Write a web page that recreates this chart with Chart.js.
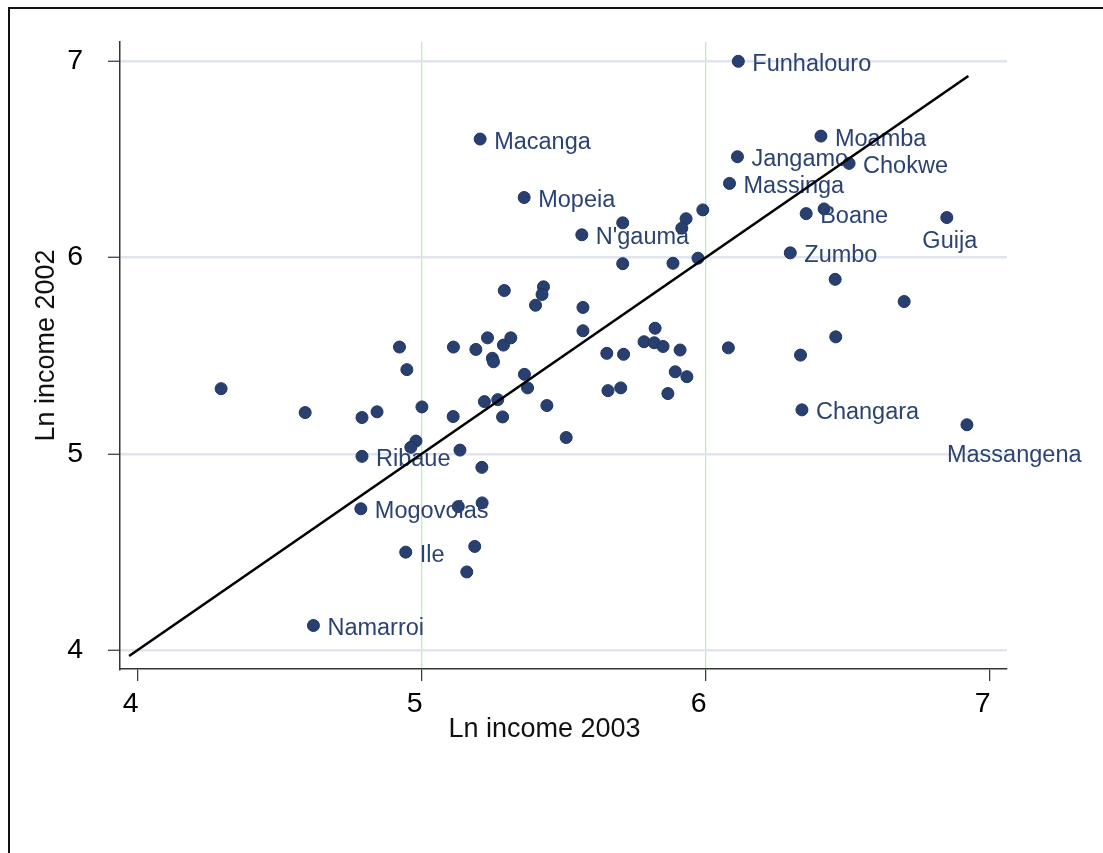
<!DOCTYPE html>
<html>
<head>
<meta charset="utf-8">
<script src="https://cdn.jsdelivr.net/npm/chart.js@4"></script>
<style>
  html, body { margin: 0; padding: 0; background: #fff; overflow: hidden; }
  #wrap { position: relative; width: 1103px; height: 853px; }
  #frame { position: absolute; left: 8px; top: 7px; width: 2000px; height: 2000px;
           border-left: 2px solid #111; border-top: 2px solid #111; pointer-events: none; }
</style>
</head>
<body>
<div id="wrap">
  <canvas id="scatterChart"></canvas>
  <div id="frame"></div>
</div>
<script>
// District names ('' = no label shown)
const names = [
    'Funhalouro', 'Macanga', 'Mopeia', "N'gauma", '', '', '', '', 'Jangamo', 'Massinga',
    '', '', '', 'Zumbo', '', '', '', 'Moamba', 'Chokwe', 'Boane',
    '', 'Guija', '', '', '', '', 'Changara', 'Massangena', '', '',
    '', '', '', '', '', '', '', '', '', '',
    '', '', '', '', '', '', '', '', '', '',
    '', '', '', '', '', '', '', '', '', '',
    '', '', '', '', '', '', '', '', '', '',
    '', '', 'Ribaue', 'Mogovolas', 'Ile', '', '', 'Namarroi'
];

// Ln income 2003 (x)
const income2003 = [
    6.115, 5.206, 5.361, 5.564, 5.708, 5.931, 5.916, 5.990, 6.112, 6.084,
    5.708, 5.885, 5.973, 6.298, 5.291, 5.429, 5.424, 6.406, 6.505, 6.354,
    6.417, 6.849, 6.456, 6.699, 6.458, 6.334, 6.339, 6.920, 5.401, 5.568,
    5.568, 5.822, 5.783, 5.819, 5.850, 5.910, 6.080, 5.112, 5.191, 5.232,
    5.288, 5.314, 5.249, 5.253, 5.652, 5.711, 5.893, 5.934, 5.867, 5.656,
    5.701, 5.362, 5.373, 5.221, 5.268, 5.285, 5.441, 5.111, 5.509, 5.135,
    5.212, 5.213, 5.129, 4.294, 4.590, 4.790, 4.843, 4.922, 4.948, 5.001,
    4.980, 4.962, 4.790, 4.786, 4.944, 5.187, 5.159, 4.619
];

// Ln income 2002 (y)
const income2002 = [
    7.000, 6.604, 6.306, 6.116, 6.177, 6.198, 6.150, 6.243, 6.514, 6.378,
    5.969, 5.971, 5.997, 6.024, 5.832, 5.851, 5.812, 6.619, 6.480, 6.224,
    6.248, 6.204, 5.889, 5.776, 5.596, 5.503, 5.224, 5.148, 5.757, 5.746,
    5.627, 5.640, 5.571, 5.566, 5.547, 5.529, 5.540, 5.544, 5.532, 5.591,
    5.554, 5.591, 5.487, 5.469, 5.512, 5.507, 5.418, 5.393, 5.307, 5.322,
    5.336, 5.405, 5.336, 5.266, 5.276, 5.188, 5.246, 5.190, 5.083, 5.019,
    4.931, 4.750, 4.731, 5.332, 5.210, 5.185, 5.214, 5.544, 5.429, 5.239,
    5.065, 5.033, 4.987, 4.720, 4.499, 4.528, 4.398, 4.125
];

// 45-degree reference line range
const lineRange = [3.97, 6.925];

const xTicks = [4, 5, 6, 7];
const yTicks = [4, 5, 6, 7];
const xLines = [5, 6];

const navy = '#283f70';
const labelColor = '#2b4372';
const fontFamily = '"Liberation Sans", Arial, Helvetica, sans-serif';

// where a label sits relative to its marker (default: right of it)
const labelPlacement = {
    'Guija': { dx: 3, dy: 24, align: 'center' },
    'Massangena': { dx: -20, dy: 31, align: 'left' }
};

const scatterPoints = income2003.map((x, i) => ({ x: x, y: income2002[i] }));
const linePoints = lineRange.map(v => ({ x: v, y: v }));

// Marker labels, drawn right after the scatter so the line sits on top
const pointLabels = {
    id: 'pointLabels',
    afterDatasetDraw(chart, args) {
        if (args.index !== 0) return;
        const ctx = chart.ctx;
        const meta = chart.getDatasetMeta(0);
        ctx.save();
        ctx.font = '23.5px ' + fontFamily;
        ctx.fillStyle = labelColor;
        ctx.textBaseline = 'middle';
        meta.data.forEach((pt, i) => {
            const name = names[i];
            if (!name) return;
            const p = labelPlacement[name] || { dx: 14, dy: 3, align: 'left' };
            ctx.textAlign = p.align;
            ctx.fillText(name, pt.x + p.dx, pt.y + p.dy);
        });
        ctx.restore();
    }
};

// Axis titles
const axisTitles = {
    id: 'axisTitles',
    afterDraw(chart) {
        const ctx = chart.ctx;
        const area = chart.chartArea;
        ctx.save();
        ctx.font = '27px ' + fontFamily;
        ctx.fillStyle = '#111';
        ctx.textAlign = 'center';
        ctx.textBaseline = 'middle';
        ctx.fillText('Ln income 2003', (area.left + area.right) / 2 - 19, area.bottom + 61);
        ctx.translate(47, (area.top + area.bottom) / 2 - 10);
        ctx.rotate(-Math.PI / 2);
        ctx.fillText('Ln income 2002', 0, 0);
        ctx.restore();
    }
};

const ctx = document.getElementById('scatterChart').getContext('2d');
const scatterChart = new Chart(ctx, {
    type: 'scatter',
    data: {
        datasets: [{
            label: 'Districts',
            data: scatterPoints,
            backgroundColor: navy,
            borderColor: '#1d3360',
            borderWidth: 1,
            pointRadius: 6,
            pointHoverRadius: 6,
            order: 2
        }, {
            type: 'line',
            label: '45 degree line',
            data: linePoints,
            borderColor: '#000',
            borderWidth: 2.6,
            pointRadius: 0,
            fill: false,
            order: 1
        }]
    },
    options: {
        responsive: true,
        maintainAspectRatio: false,
        animation: false,
        layout: {
            padding: { left: 0, top: 40, right: 96, bottom: 0 }
        },
        plugins: {
            legend: { display: false },
            tooltip: { enabled: false }
        },
        scales: {
            x: {
                type: 'linear',
                min: 3.938,
                max: 7.061,
                afterBuildTicks: axis => { axis.ticks = xTicks.map(v => ({ value: v })); },
                afterFit: scale => { scale.height = 184; },
                border: { display: true, color: '#333', width: 1.5 },
                grid: {
                    drawOnChartArea: true,
                    color: c => xLines.includes(c.tick.value) ? '#b4f0b4' : 'rgba(0,0,0,0)',
                    lineWidth: 1.3,
                    tickColor: '#333',
                    tickWidth: 1.2,
                    tickLength: 12
                },
                ticks: {
                    color: '#000',
                    font: { size: 28.5, family: fontFamily },
                    padding: 6,
                    labelOffset: -7,
                    maxRotation: 0
                }
            },
            y: {
                type: 'linear',
                min: 3.9035,
                max: 7.098,
                afterBuildTicks: axis => { axis.ticks = yTicks.map(v => ({ value: v })); },
                afterFit: scale => { scale.width = 120; },
                border: { display: true, color: '#333', width: 1.5 },
                grid: {
                    color: '#e0e4ef',
                    lineWidth: 2.5,
                    tickColor: '#333',
                    tickWidth: 1.2,
                    tickLength: 12
                },
                ticks: {
                    color: '#000',
                    font: { size: 28.5, family: fontFamily },
                    padding: 25
                }
            }
        }
    },
    plugins: [pointLabels, axisTitles]
});
</script>
</body>
</html>
